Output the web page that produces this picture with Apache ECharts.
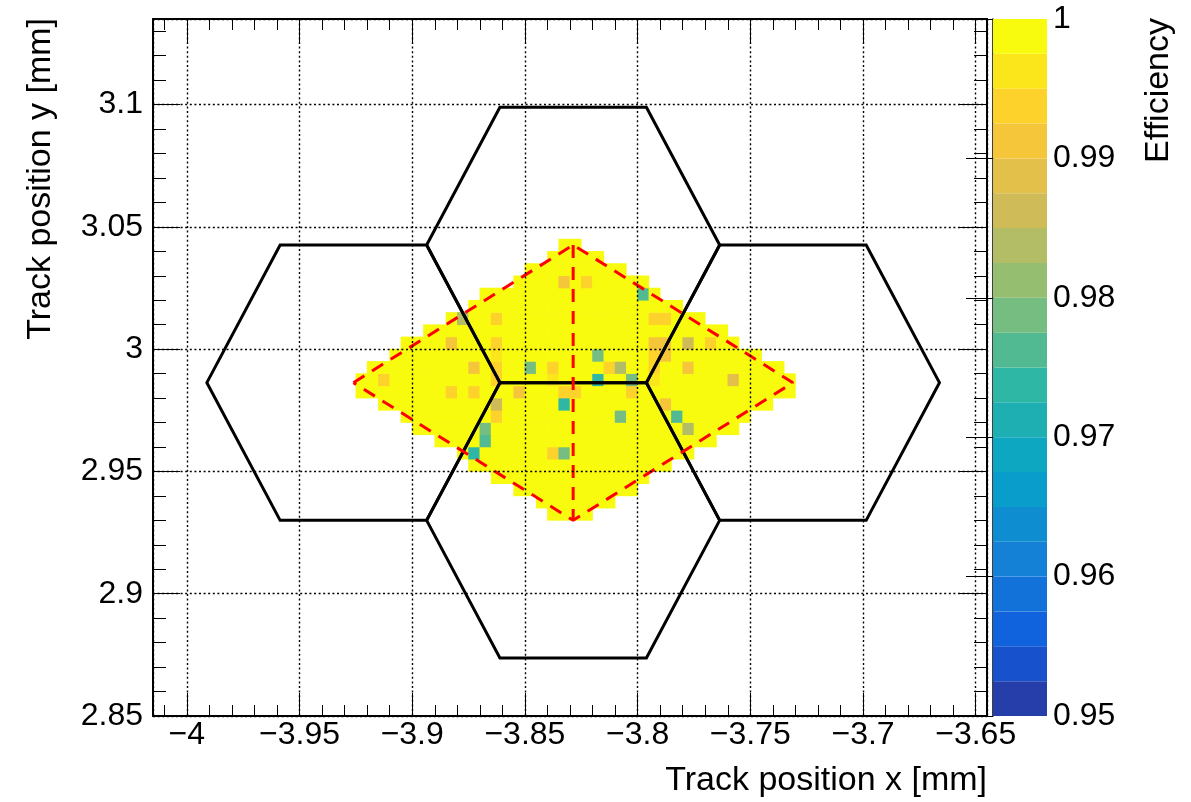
<!DOCTYPE html>
<html>
<head>
<meta charset="utf-8">
<title>Efficiency map</title>
<script src="https://cdn.jsdelivr.net/npm/echarts@6/dist/echarts.min.js"></script>
<style>
  html, body { margin: 0; padding: 0; background: #ffffff; }
  #chart { width: 1191px; height: 802px; }
</style>
</head>
<body>
<div id="chart"></div>
<script>
// ---- Efficiency map binning (mm) ----
const binX0 = -3.925;
const binY0 = 2.93;
const binSize = 0.005;

// First and last filled x-bin of every y-row (row 0 = bottom row)
const rowFirst = [17, 16, 14, 12, 10, 9, 7, 5, 4, 2, 0, 0, 1, 3, 4, 6, 8, 10, 11, 14, 15, 17, 18];
const rowLast  = [20, 22, 24, 25, 27, 29, 31, 33, 34, 36, 38, 38, 37, 35, 33, 32, 30, 28, 26, 25, 23, 21, 19];

// Efficiency of the filled bins that are not fully efficient: [xBin, yBin, efficiency]
const lowBins = [
  [18, 19, 0.9912], [20, 19, 0.9938],
  [25, 18, 0.9762],
  [9, 16, 0.9838], [12, 16, 0.9938], [26, 16, 0.9945], [27, 16, 0.9935],
  [8, 14, 0.9912], [12, 14, 0.9938], [26, 14, 0.9912], [27, 14, 0.9912], [29, 14, 0.9862], [31, 14, 0.9938],
  [12, 13, 0.9962], [21, 13, 0.9788], [26, 13, 0.9935], [27, 13, 0.9912],
  [10, 12, 0.9912], [12, 12, 0.9938], [15, 12, 0.9788], [17, 12, 0.9938], [22, 12, 0.9938],
  [23, 12, 0.9838], [26, 12, 0.9938], [29, 12, 0.9912],
  [2, 11, 0.9938], [12, 11, 0.9938], [17, 11, 0.9962], [21, 11, 0.9738], [24, 11, 0.9788],
  [26, 11, 0.9962], [33, 11, 0.9888],
  [8, 10, 0.9945], [10, 10, 0.9938], [14, 10, 0.9912], [18, 10, 0.9938], [19, 10, 0.9938], [24, 10, 0.9938],
  [12, 9, 0.9862], [18, 9, 0.9738], [27, 9, 0.9912],
  [12, 8, 0.9938], [23, 8, 0.9788], [28, 8, 0.9762],
  [11, 7, 0.9788], [29, 7, 0.9838],
  [11, 6, 0.9762],
  [10, 5, 0.9738], [17, 5, 0.9938], [18, 5, 0.9788]
];
const fullEfficiency = 1.0;

// Hexagonal pixel cells: centres [x, y] in mm (top, left, right, bottom) and circumradius
const hexCenters = [[-3.8286, 3.0426], [-3.9261, 2.9863], [-3.7311, 2.9863], [-3.8286, 2.9300]];
const hexRadius = 0.065;
// Dashed outline joining the cell centres: left -> top -> right -> bottom -> left, plus top -> bottom
const diamondOrder = [1, 0, 2, 3, 1];
const dividerOrder = [0, 3];

// Axis ranges and labelled ticks
const xRange = [-4.015, -3.645];
const yRange = [2.85, 3.135];
const xTickValues = [-4, -3.95, -3.9, -3.85, -3.8, -3.75, -3.7, -3.65];
const yTickValues = [2.85, 2.9, 2.95, 3, 3.05, 3.1];

// Colour scale
const zRange = [0.95, 1.0];
const nLevels = 20;
const zTickStep = 0.01;

// Bird palette stops
const birdStops = [0.0000, 0.1250, 0.2500, 0.3750, 0.5000, 0.6250, 0.7500, 0.8750, 1.0000];
const birdR = [0.2082, 0.0592, 0.0780, 0.0232, 0.1802, 0.5301, 0.8186, 0.9956, 0.9764];
const birdG = [0.1664, 0.3599, 0.5041, 0.6419, 0.7178, 0.7492, 0.7328, 0.7862, 0.9832];
const birdB = [0.5293, 0.8684, 0.8385, 0.7914, 0.6425, 0.4662, 0.3499, 0.1968, 0.0539];

function birdColor(f) {
  let s = 0;
  while (s < birdStops.length - 2 && f > birdStops[s + 1]) s++;
  const t = (f - birdStops[s]) / (birdStops[s + 1] - birdStops[s]);
  const ch = arr => Math.round(255 * (arr[s] + (arr[s + 1] - arr[s]) * t));
  return 'rgb(' + ch(birdR) + ',' + ch(birdG) + ',' + ch(birdB) + ')';
}
const levelColors = [];
for (let k = 0; k < nLevels; k++) levelColors.push(birdColor((k + 0.99) / nLevels));

function levelOf(v) {
  const k = Math.floor((v - zRange[0]) / (zRange[1] - zRange[0]) * nLevels + 1e-9);
  return Math.max(0, Math.min(nLevels - 1, k));
}

// Histogram cells [xCentre, yCentre, efficiency]
const cells = [];
for (let j = 0; j < rowFirst.length; j++) {
  for (let i = rowFirst[j]; i <= rowLast[j]; i++) {
    const low = lowBins.find(b => b[0] === i && b[1] === j);
    cells.push([binX0 + (i + 0.5) * binSize, binY0 + (j + 0.5) * binSize, low ? low[2] : fullEfficiency]);
  }
}

// Colour bar bands [lower edge, upper edge, level]
const bands = [];
for (let k = 0; k < nLevels; k++) {
  const w = (zRange[1] - zRange[0]) / nLevels;
  bands.push([zRange[0] + k * w, zRange[0] + (k + 1) * w, k]);
}

const FONT = 'Liberation Sans, Arial, Helvetica, sans-serif';
const LABEL_SIZE = 32;
const TITLE_SIZE = 34;

function tickText(list, v) {
  const t = list.find(x => Math.abs(x - v) < 1e-7);
  if (t === undefined) return '';
  return (t < 0 ? '\u2212' : '') + String(Math.abs(t));
}

const frame = { left: 153, top: 19, width: 834, height: 697 };
const gridBox = Object.assign({ containLabel: false, outerBoundsMode: 'none' }, frame);

const chart = echarts.init(document.getElementById('chart'), null, { renderer: 'canvas' });

const blackLine = { color: '#000000', width: 1 };
const frameLine = { show: true, lineStyle: { color: '#000000', width: 2 } };
const dotted = { show: true, lineStyle: { color: '#000000', width: 1.4, type: [2, 2.6] } };

function valueAxis(extra) {
  return Object.assign({
    type: 'value',
    axisLine: { show: false },
    axisTick: { show: false },
    axisLabel: { show: false },
    splitLine: { show: false },
    minorTick: { show: false },
    scale: true
  }, extra);
}

chart.setOption({
  animation: false,
  backgroundColor: '#ffffff',
  grid: [
    Object.assign({}, gridBox),                 // main frame, labelled axes
    Object.assign({}, gridBox),                 // fine ticks bottom / left
    Object.assign({}, gridBox),                 // top / right axes
    Object.assign({}, gridBox),                 // fine ticks top / right
    { left: 993, top: 19, width: 54, height: 697, containLabel: false, outerBoundsMode: 'none' } // colour bar
  ],
  xAxis: [
    valueAxis({
      gridIndex: 0, position: 'bottom', min: xRange[0], max: xRange[1], splitNumber: 7, z: 10,
      axisLine: frameLine,
      axisTick: { show: true, inside: true, length: 23, lineStyle: blackLine },
      axisLabel: {
        show: true, margin: 3, color: '#000', fontFamily: FONT, fontSize: LABEL_SIZE,
        showMinLabel: true, showMaxLabel: true,
        formatter: v => tickText(xTickValues, v)
      },
      splitLine: dotted
    }),
    valueAxis({
      gridIndex: 1, position: 'bottom', min: xRange[0], max: xRange[1], splitNumber: 37,
      axisTick: { show: true, inside: true, length: 11, lineStyle: blackLine }
    }),
    valueAxis({
      gridIndex: 2, position: 'top', min: xRange[0], max: xRange[1], splitNumber: 7,
      axisLine: frameLine,
      axisTick: { show: true, inside: true, length: 23, lineStyle: blackLine }
    }),
    valueAxis({
      gridIndex: 3, position: 'top', min: xRange[0], max: xRange[1], splitNumber: 37,
      axisTick: { show: true, inside: true, length: 11, lineStyle: blackLine }
    }),
    valueAxis({ gridIndex: 4, min: 0, max: 1, show: false })
  ],
  yAxis: [
    valueAxis({
      gridIndex: 0, position: 'left', min: yRange[0], max: yRange[1], splitNumber: 5, z: 10,
      axisLine: frameLine,
      axisTick: { show: true, inside: true, length: 27, lineStyle: blackLine },
      axisLabel: {
        show: true, margin: 10, color: '#000', fontFamily: FONT, fontSize: LABEL_SIZE,
        formatter: v => tickText(yTickValues, v)
      },
      splitLine: dotted
    }),
    valueAxis({
      gridIndex: 1, position: 'left', min: yRange[0], max: yRange[1], splitNumber: 28,
      axisTick: { show: true, inside: true, length: 13, lineStyle: blackLine }
    }),
    valueAxis({
      gridIndex: 2, position: 'right', min: yRange[0], max: yRange[1], splitNumber: 5,
      axisLine: frameLine,
      axisTick: { show: true, inside: true, length: 27, lineStyle: blackLine }
    }),
    valueAxis({
      gridIndex: 3, position: 'right', min: yRange[0], max: yRange[1], splitNumber: 28,
      axisTick: { show: true, inside: true, length: 13, lineStyle: blackLine }
    }),
    valueAxis({
      gridIndex: 4, position: 'right', min: zRange[0], max: zRange[1], interval: zTickStep,
      axisLine: { show: true, lineStyle: { color: '#000', width: 1.5 } },
      axisTick: { show: true, inside: true, length: 27, lineStyle: blackLine },
      axisLabel: {
        show: true, margin: 6, color: '#000', fontFamily: FONT, fontSize: LABEL_SIZE,
        formatter: v => String(Math.round(v * 100) / 100)
      }
    })
  ],
  graphic: [
    {
      type: 'text', x: 987, y: 781, silent: true,
      style: { text: 'Track position x [mm]', font: TITLE_SIZE + 'px ' + FONT, fill: '#000',
               align: 'right', verticalAlign: 'middle' }
    },
    {
      type: 'text', x: 41, y: 18, rotation: Math.PI / 2, silent: true,
      style: { text: 'Track position y [mm]', font: TITLE_SIZE + 'px ' + FONT, fill: '#000',
               align: 'right', verticalAlign: 'middle' }
    },
    {
      type: 'text', x: 1159, y: 18, rotation: Math.PI / 2, silent: true,
      style: { text: 'Efficiency', font: TITLE_SIZE + 'px ' + FONT, fill: '#000',
               align: 'right', verticalAlign: 'middle' }
    }
  ],
  series: [
    {
      // 2D efficiency histogram
      type: 'custom', name: 'efficiency', xAxisIndex: 0, yAxisIndex: 0, z: 2, silent: true,
      data: cells,
      encode: { x: 0, y: 1 },
      renderItem: function (params, api) {
        const x = api.value(0), y = api.value(1), v = api.value(2);
        const p0 = api.coord([x - binSize / 2, y + binSize / 2]);
        const p1 = api.coord([x + binSize / 2, y - binSize / 2]);
        const pad = 0.3; // slight overlap so neighbouring bins close without seams
        return {
          type: 'rect',
          shape: { x: p0[0] - pad, y: p0[1] - pad, width: p1[0] - p0[0] + 2 * pad, height: p1[1] - p0[1] + 2 * pad },
          style: { fill: levelColors[levelOf(v)] }
        };
      }
    },
    {
      // hexagonal pixel outlines
      type: 'custom', name: 'pixels', xAxisIndex: 0, yAxisIndex: 0, z: 5, silent: true,
      data: hexCenters,
      encode: { x: 0, y: 1 },
      renderItem: function (params, api) {
        const cx = api.value(0), cy = api.value(1);
        const pts = [];
        for (let k = 0; k < 6; k++) {
          const a = k * Math.PI / 3;
          pts.push(api.coord([cx + hexRadius * Math.cos(a), cy + hexRadius * Math.sin(a)]));
        }
        return {
          type: 'polygon',
          shape: { points: pts },
          style: { fill: 'none', stroke: '#000000', lineWidth: 3, lineJoin: 'miter' }
        };
      }
    },
    {
      type: 'line', name: 'outline', xAxisIndex: 0, yAxisIndex: 0, z: 6, silent: true,
      data: diamondOrder.map(k => hexCenters[k]),
      symbol: 'none',
      lineStyle: { color: '#ff0000', width: 3, type: [13, 9] }
    },
    {
      type: 'line', name: 'divider', xAxisIndex: 0, yAxisIndex: 0, z: 6, silent: true,
      data: dividerOrder.map(k => hexCenters[k]),
      symbol: 'none',
      lineStyle: { color: '#ff0000', width: 3, type: [13, 9] }
    },
    {
      // colour bar
      type: 'custom', name: 'palette', xAxisIndex: 4, yAxisIndex: 4, z: 2, silent: true,
      data: bands,
      encode: { y: [0, 1] },
      renderItem: function (params, api) {
        const lo = api.value(0), hi = api.value(1), k = api.value(2);
        const p0 = api.coord([0, hi]);
        const p1 = api.coord([1, lo]);
        return {
          type: 'rect',
          shape: { x: p0[0], y: p0[1], width: p1[0] - p0[0], height: p1[1] - p0[1] },
          style: { fill: levelColors[k] }
        };
      }
    }
  ]
});
</script>
</body>
</html>
